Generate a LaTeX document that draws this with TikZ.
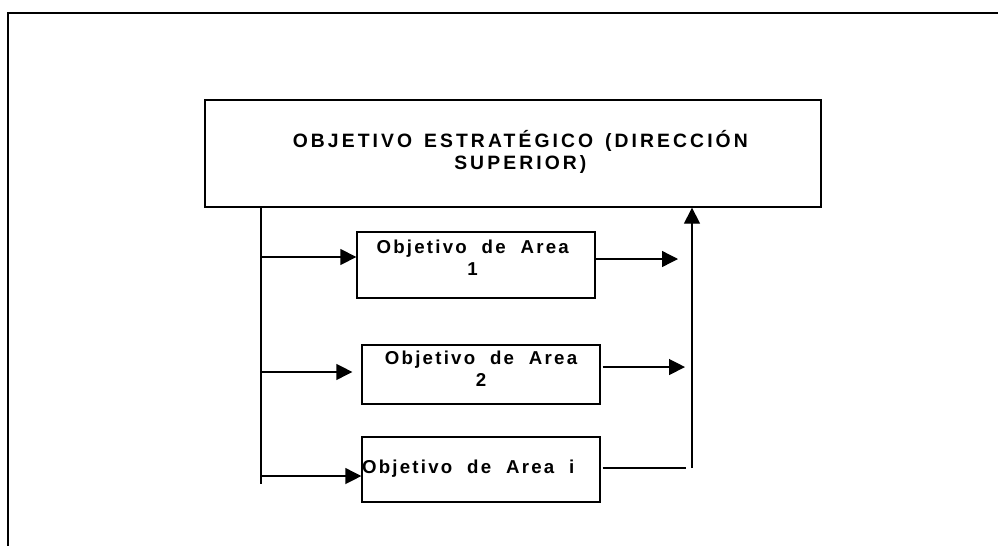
\documentclass[tikz,border=0pt]{standalone}
\usepackage{fontspec}
\setmainfont{Liberation Sans}[LetterSpace=12, WordSpace=2]
\newfontfamily\titulofont{Liberation Sans}[LetterSpace=16, WordSpace=1.4]
\usetikzlibrary{arrows.meta}

\tikzset{
	areabox/.style = {draw, minimum width = 178.5pt, inner sep = 0pt},
	flecha/.style = {-{Triangle[length = 12pt, width = 12pt]}}
}

\begin{document}
\begin{tikzpicture}[x = 0.75pt, y = -0.75pt, line width = 1pt, font = \bfseries\fontsize{14}{16.5}\selectfont]
		\useasboundingbox (0,0) rectangle (998,546);
		\draw (998,13) -- (8,13) -- (8,546);

		\node [draw, minimum width = 462pt, minimum height = 80.25pt, label = {[align = center, xshift = 5.5pt, yshift = 1pt, font = \titulofont\bfseries\fontsize{14.5}{16.5}\selectfont]center:OBJETIVO ESTRATÉGICO (DIRECCIÓN\\SUPERIOR)}] (estrategico) at (513,153.5) {};
		\node [areabox, minimum height = 49.5pt, label = {[anchor = north, align = center, xshift = -2.5pt, yshift = -3pt]north:Objetivo de Area\\1}] (area1) at (476,265) {};
		\node [areabox, minimum height = 44.25pt, label = {[anchor = north, align = center, yshift = -1pt]north:Objetivo de Area\\2}] (area2) at (481,374.5) {};
		\node [areabox, minimum height = 48.75pt, label = {[anchor = west, inner sep = 0pt, yshift = 1pt]west:Objetivo de Area i}] (area3) at (481,469.5) {};

		\coordinate (tronco) at (261,484);
		\coordinate (colector) at (692,468);
		\coordinate (entra1) at ([yshift = 6pt]area1.west);
		\coordinate (entra2) at ([yshift = 1.9pt]area2.west);
		\coordinate (entra3) at ([yshift = -4.9pt]area3.west);
		\coordinate (sale1) at ([yshift = 4.5pt]area1.east);
		\coordinate (sale2) at ([yshift = 5.6pt]area2.east);

		\draw (estrategico.south -| tronco) -- (tronco);
		\draw [flecha] (tronco |- entra1) -- (entra1);
		\draw [flecha, shorten > = 6.75pt] (tronco |- entra2) -- (entra2);
		\draw [flecha] (tronco |- entra3) -- (entra3);

		\draw [flecha, shorten > = 10.5pt] (sale1) -- (colector |- sale1);
		\draw [flecha, shorten > = 5.25pt, shorten < = 1.5pt] (sale2) -- (colector |- sale2);
		\draw [shorten > = 4.5pt, shorten < = 1.5pt] (area3.east |- colector) -- (colector);
		\draw [flecha] (colector) -- (colector |- estrategico.south);
	\end{tikzpicture}
\end{document}
